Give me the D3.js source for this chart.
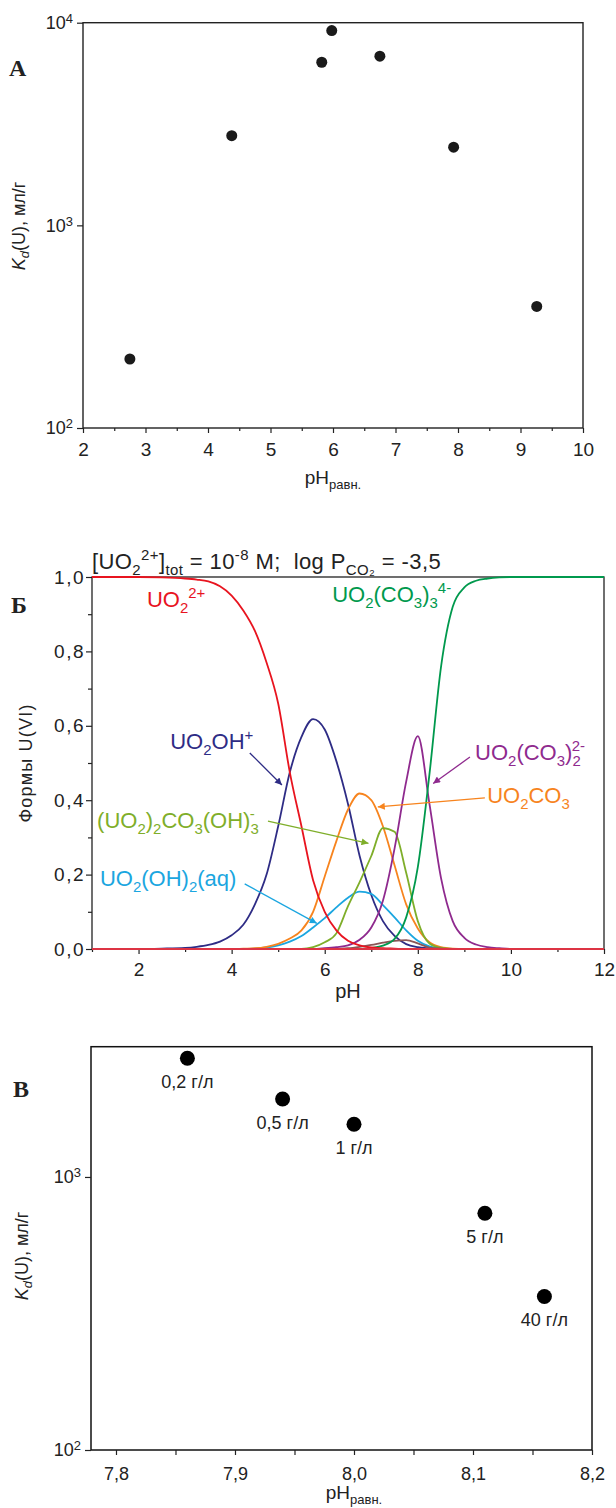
<!DOCTYPE html>
<html>
<head>
<meta charset="utf-8">
<script src="https://cdn.jsdelivr.net/npm/d3@7"></script>
<style>
  body { margin: 0; background: #fff; }
  text { font-family: "Liberation Sans", Arial, sans-serif; fill: #222; }
  .letter { font-family: "Liberation Serif", "DejaVu Serif", serif; font-weight: bold; }
</style>
</head>
<body>
<div id="chart"></div>
<script>
// ---------- panel А: Kd vs pH ----------
const phA = [2.75, 4.38, 5.82, 5.98, 6.75, 7.93, 9.26];
const kdA = [219, 2770, 6380, 9140, 6840, 2430, 398];
const ticksA = [2, 3, 4, 5, 6, 7, 8, 9, 10];
const minorA = [2.5, 3.5, 4.5, 5.5, 6.5, 7.5, 8.5, 9.5];

// ---------- panel Б: speciation ----------
const phB = [1, 1.5, 2, 2.5,
  3, 3.25, 3.5, 3.75, 4, 4.25, 4.5, 4.75, 5, 5.25, 5.5, 5.75,
  6, 6.25, 6.5, 6.75, 7, 7.25, 7.5, 7.75, 8, 8.25, 8.5, 8.75,
  9, 9.25, 9.5, 9.75, 10, 10.5, 11, 11.5, 12];
const uo2 = [1, 1, 1, 0.999, 0.996, 0.993, 0.988, 0.975, 0.95, 0.91, 0.855, 0.77,
  0.66, 0.475, 0.33, 0.185, 0.10, 0.05, 0.022, 0.01, 0.004, 0.002, 0.001, 0,
  0, 0, 0, 0, 0, 0, 0, 0, 0, 0, 0, 0, 0];
const uo2oh = [0, 0, 0, 0.001, 0.003, 0.006, 0.011, 0.02, 0.037, 0.065, 0.12, 0.2,
  0.33, 0.475, 0.57, 0.618, 0.59, 0.505, 0.39, 0.25, 0.145, 0.075, 0.035, 0.013,
  0.005, 0.002, 0, 0, 0, 0, 0, 0, 0, 0, 0, 0, 0];
const uo2co3 = [0, 0, 0, 0, 0, 0, 0, 0, 0, 0.001, 0.002, 0.006,
  0.014, 0.028, 0.05, 0.10, 0.195, 0.29, 0.375, 0.418, 0.40, 0.33, 0.225, 0.12,
  0.055, 0.018, 0.005, 0.001, 0, 0, 0, 0, 0, 0, 0, 0, 0];
const uo2oh2 = [0, 0, 0, 0, 0, 0, 0, 0, 0, 0, 0.001, 0.004,
  0.01, 0.02, 0.035, 0.058, 0.083, 0.112, 0.138, 0.154, 0.148, 0.118, 0.085, 0.05,
  0.022, 0.007, 0.002, 0, 0, 0, 0, 0, 0, 0, 0, 0, 0];
const dimer = [0, 0, 0, 0, 0, 0, 0, 0, 0, 0, 0, 0,
  0, 0, 0, 0.005, 0.018, 0.042, 0.115, 0.18, 0.25, 0.325, 0.315, 0.205,
  0.075, 0.015, 0.003, 0, 0, 0, 0, 0, 0, 0, 0, 0, 0];
const dicarb = [0, 0, 0, 0, 0, 0, 0, 0, 0, 0, 0, 0,
  0, 0, 0, 0, 0.002, 0.005, 0.01, 0.025, 0.058, 0.13, 0.27, 0.45,
  0.572, 0.39, 0.19, 0.075, 0.03, 0.012, 0.005, 0.002, 0, 0, 0, 0, 0];
const tricarb = [0, 0, 0, 0, 0, 0, 0, 0, 0, 0, 0, 0,
  0, 0, 0, 0, 0, 0, 0, 0, 0.003, 0.009, 0.027, 0.085,
  0.22, 0.47, 0.76, 0.92, 0.972, 0.99, 0.996, 0.999, 1, 1, 1, 1, 1];
const minorSp = [0, 0, 0, 0, 0, 0, 0, 0, 0, 0, 0, 0,
  0, 0, 0, 0, 0, 0, 0.002, 0.006, 0.011, 0.017, 0.022, 0.024,
  0.015, 0.004, 0.001, 0, 0, 0, 0, 0, 0, 0, 0, 0, 0];
const otherPh = [1, 12];
const otherVal = [0, 0];
const ticksBx = [2, 4, 6, 8, 10, 12];
const minorBx = [1, 3, 5, 7, 9, 11];
const ticksBy = [0, 0.2, 0.4, 0.6, 0.8, 1.0];
const minorBy = [0.1, 0.3, 0.5, 0.7, 0.9];

// ---------- panel В: Kd vs pH for solid/liquid ratio ----------
const phC = [7.86, 7.94, 8.00, 8.11, 8.16];
const kdC = [2720, 1930, 1560, 736, 365];
const labelsC = ["0,2 г/л", "0,5 г/л", "1 г/л", "5 г/л", "40 г/л"];
const ticksC = [7.8, 7.9, 8.0, 8.1, 8.2];
const minorC = [7.85, 7.95, 8.05, 8.15];

const comma = f => v => d3.format(f)(v).replace(".", ",");

const svg = d3.select("#chart").append("svg")
  .attr("width", 616).attr("height", 1508);

const defs = svg.append("defs");

// text with sub/superscripts; part = "text" or [text, pos(-1 sub, 1 sup), dx]
function chem(parent, x, y, parts, size, color) {
  const t = parent.append("text").attr("x", x).attr("y", y)
    .style("font-size", size + "px").style("fill", color).style("white-space", "pre");
  let cur = 0;
  parts.forEach(p => {
    const [str, pos, dx] = typeof p === "string" ? [p, 0, 0] : p;
    const shift = pos === -1 ? 0.28 * size : pos === 1 ? -0.42 * size : 0;
    const ts = t.append("tspan").text(str).attr("dy", shift - cur)
      .style("font-size", (pos ? 0.68 * size : size) + "px");
    if (dx) ts.attr("dx", dx);
    cur = shift;
  });
  return t;
}

function powLabels(g, size) {
  g.selectAll(".tick text").each(function(d) {
    const t = d3.select(this);
    t.text("10");
    t.append("tspan").attr("dy", "-0.45em").style("font-size", (size * 0.72) + "px")
      .text(Math.round(Math.log10(d)));
  });
}

function styleAxis(g, size) {
  g.select(".domain").remove();
  g.selectAll(".tick line").attr("stroke", "#222").attr("stroke-width", 1.2);
  g.selectAll(".tick text").style("font-size", size + "px").style("fill", "#222")
    .style("font-family", '"Liberation Sans", Arial, sans-serif');
}

function kdLabel(x, cy) {
  const t = svg.append("text").attr("transform", `translate(${x},${cy}) rotate(-90)`)
    .attr("text-anchor", "middle").style("font-size", "18px");
  t.append("tspan").text("K").style("font-style", "italic");
  t.append("tspan").text("d").style("font-style", "italic").style("font-size", "13px").attr("dy", 4);
  t.append("tspan").text("(U), мл/г").attr("dy", -4);
}

function phLabel(x, y) {
  const t = svg.append("text").attr("x", x).attr("y", y).attr("text-anchor", "middle")
    .style("font-size", "19px");
  t.append("tspan").text("pH");
  t.append("tspan").text("равн.").style("font-size", "13px").attr("dy", 5);
}

// ================= panel А =================
const xA = d3.scaleLinear().domain([2, 10]).range([83, 583]);
const yA = d3.scaleLog().domain([100, 10000]).range([428, 22.7]);

svg.append("rect").attr("x", xA(2)).attr("y", yA(10000))
  .attr("width", xA(10) - xA(2)).attr("height", yA(100) - yA(10000))
  .attr("fill", "none").attr("stroke", "#222").attr("stroke-width", 1.4);

const gAx = svg.append("g").attr("transform", `translate(0,${yA(100)})`)
  .call(d3.axisBottom(xA).tickValues(ticksA).tickSize(5).tickPadding(10).tickSizeOuter(0));
styleAxis(gAx, 19);
const gAm = svg.append("g").attr("transform", `translate(0,${yA(100)})`)
  .call(d3.axisBottom(xA).tickValues(minorA).tickSize(3).tickFormat(""));
styleAxis(gAm, 19);
const gAy = svg.append("g").attr("transform", `translate(${xA(2)},0)`)
  .call(d3.axisLeft(yA).tickValues([100, 1000, 10000]).tickSize(6).tickPadding(4).tickSizeOuter(0));
styleAxis(gAy, 18);
powLabels(gAy, 18);

svg.append("g").selectAll("circle").data(phA).join("circle")
  .attr("cx", d => xA(d)).attr("cy", (d, i) => yA(kdA[i])).attr("r", 5.5)
  .attr("fill", "#1a1a1a");

kdLabel(25, 226);
phLabel(333, 484);
svg.append("text").attr("class", "letter").attr("x", 9).attr("y", 76)
  .style("font-size", "24px").text("А");

// ================= panel Б =================
const xB = d3.scaleLinear().domain([1, 12]).range([92, 604]);
const yB = d3.scaleLinear().domain([0, 1]).range([949, 577]);

svg.append("rect").attr("x", xB(1)).attr("y", yB(1))
  .attr("width", xB(12) - xB(1)).attr("height", yB(0) - yB(1))
  .attr("fill", "none").attr("stroke", "#222").attr("stroke-width", 1.3);

const gBx = svg.append("g").attr("transform", `translate(0,${yB(0)})`)
  .call(d3.axisBottom(xB).tickValues(ticksBx).tickSize(5).tickPadding(9).tickSizeOuter(0));
styleAxis(gBx, 19);
const gBxm = svg.append("g").attr("transform", `translate(0,${yB(0)})`)
  .call(d3.axisBottom(xB).tickValues(minorBx).tickSize(3).tickFormat(""));
styleAxis(gBxm, 19);
const gBy = svg.append("g").attr("transform", `translate(${xB(1)},0)`)
  .call(d3.axisLeft(yB).tickValues(ticksBy).tickSize(6).tickPadding(1).tickFormat(comma(".1f")));
styleAxis(gBy, 19);
gBy.selectAll(".tick text").style("letter-spacing", "1.5px");
const gBym = svg.append("g").attr("transform", `translate(${xB(1)},0)`)
  .call(d3.axisLeft(yB).tickValues(minorBy).tickSize(4).tickFormat(""));
styleAxis(gBym, 19);

const lineB = d3.line().x(d => xB(d[0])).y(d => yB(d[1])).curve(d3.curveMonotoneX);
const seriesB = [
  { v: uo2oh, c: "#2e2c85" },
  { v: uo2oh2, c: "#1ba6e0" },
  { v: uo2co3, c: "#f7841e" },
  { v: dimer, c: "#7fae2a" },
  { v: minorSp, c: "#8a5656" },
  { v: dicarb, c: "#8f2a8e" },
  { v: tricarb, c: "#00994d" },
  { v: uo2, c: "#e8141f" }
];
svg.append("g").selectAll("path").data(seriesB).join("path")
  .attr("d", s => lineB(phB.map((p, i) => [p, s.v[i]])))
  .attr("fill", "none").attr("stroke", s => s.c).attr("stroke-width", 1.8);
svg.append("path").attr("d", lineB(otherPh.map((p, i) => [p, otherVal[i]])))
  .attr("fill", "none").attr("stroke", "#dd3444").attr("stroke-width", 2);

// species labels and arrows (positions in pH / fraction units)
const speciesLabels = [
  { at: [2.18, 0.919], c: "#e8141f", parts: ["UO", ["2", -1], ["2+", 1]] },
  { at: [6.16, 0.933], c: "#00994d", parts: ["UO", ["2", -1], "(CO", ["3", -1], ")", ["3", -1], ["4-", 1]] },
  { at: [2.68, 0.538], c: "#2e2c85", parts: ["UO", ["2", -1], "OH", ["+", 1]] },
  { at: [9.23, 0.508], c: "#8f2a8e", parts: ["UO", ["2", -1], "(CO", ["3", -1], ")", ["2", -1], ["2-", 1, -9]] },
  { at: [9.49, 0.392], c: "#f7841e", parts: ["UO", ["2", -1], "CO", ["3", -1]] },
  { at: [1.11, 0.325], c: "#7fae2a", parts: ["(UO", ["2", -1], ")", ["2", -1], "CO", ["3", -1], "(OH)", ["3", -1], ["-", 1, -9]] },
  { at: [1.17, 0.169], c: "#1ba6e0", parts: ["UO", ["2", -1], "(OH)", ["2", -1], "(aq)"] }
];
speciesLabels.forEach(l => chem(svg, xB(l.at[0]), yB(l.at[1]), l.parts, 22, l.c));

const arrows = [
  { from: [4.39, 0.527], to: [5.08, 0.441], c: "#2e2c85" },
  { from: [9.12, 0.516], to: [8.33, 0.445], c: "#8f2a8e" },
  { from: [9.44, 0.406], to: [7.14, 0.382], c: "#f7841e" },
  { from: [4.78, 0.344], to: [6.94, 0.284], c: "#7fae2a" },
  { from: [4.28, 0.175], to: [5.83, 0.069], c: "#1ba6e0" }
];
arrows.forEach((a, i) => {
  defs.append("marker").attr("id", "ah" + i).attr("viewBox", "0 0 10 10")
    .attr("refX", 10).attr("refY", 5).attr("markerWidth", 9).attr("markerHeight", 7)
    .attr("markerUnits", "userSpaceOnUse").attr("orient", "auto")
    .append("path").attr("d", "M0,0L10,5L0,10z").attr("fill", a.c);
  svg.append("line")
    .attr("x1", xB(a.from[0])).attr("y1", yB(a.from[1]))
    .attr("x2", xB(a.to[0])).attr("y2", yB(a.to[1]))
    .attr("stroke", a.c).attr("stroke-width", 1.3).attr("marker-end", `url(#ah${i})`);
});

chem(svg, xB(1), 569, ["[UO", ["2", -1], ["2+", 1], "]", ["tot", -1], " = 10", ["-8", 1],
  " M;  log P", ["CO₂", -1], " = -3,5"], 22, "#222")
  .style("letter-spacing", "0.4px");

svg.append("text").attr("transform", `translate(32,${(yB(0) + yB(1)) / 2}) rotate(-90)`)
  .attr("text-anchor", "middle").style("font-size", "18px").style("letter-spacing", "1.2px")
  .text("Формы U(VI)");
svg.append("text").attr("x", (xB(1) + xB(12)) / 2).attr("y", 998).attr("text-anchor", "middle")
  .style("font-size", "20px").text("pH");
svg.append("text").attr("class", "letter").attr("x", 11).attr("y", 613)
  .style("font-size", "24px").text("Б");

// ================= panel В =================
const xC = d3.scaleLinear().domain([7.779, 8.2]).range([91, 592]);
const yC = d3.scaleLog().domain([100, 3000]).range([1450, 1046.7]);

svg.append("rect").attr("x", xC.range()[0]).attr("y", yC(3000))
  .attr("width", xC.range()[1] - xC.range()[0]).attr("height", yC(100) - yC(3000))
  .attr("fill", "none").attr("stroke", "#111").attr("stroke-width", 1.5);

const gCx = svg.append("g").attr("transform", `translate(0,${yC(100)})`)
  .call(d3.axisBottom(xC).tickValues(ticksC).tickSize(5).tickPadding(12).tickSizeOuter(0)
    .tickFormat(comma(".1f")));
styleAxis(gCx, 18);
const gCm = svg.append("g").attr("transform", `translate(0,${yC(100)})`)
  .call(d3.axisBottom(xC).tickValues(minorC).tickSize(5).tickFormat(""));
styleAxis(gCm, 18);
const gCy = svg.append("g").attr("transform", `translate(${xC.range()[0]},0)`)
  .call(d3.axisLeft(yC).tickValues([100, 1000]).tickSize(6).tickPadding(4).tickSizeOuter(0));
styleAxis(gCy, 18);
powLabels(gCy, 18);

const gC = svg.append("g");
gC.selectAll("circle").data(phC).join("circle")
  .attr("cx", d => xC(d)).attr("cy", (d, i) => yC(kdC[i])).attr("r", 7.5)
  .attr("fill", "#000");
gC.selectAll("text").data(labelsC).join("text")
  .attr("x", (d, i) => xC(phC[i])).attr("y", (d, i) => yC(kdC[i]) + 30)
  .attr("text-anchor", "middle").style("font-size", "18px").text(d => d);

kdLabel(28, 1256);
phLabel(354, 1499);
svg.append("text").attr("class", "letter").attr("x", 13).attr("y", 1097)
  .style("font-size", "24px").text("В");
</script>
</body>
</html>
